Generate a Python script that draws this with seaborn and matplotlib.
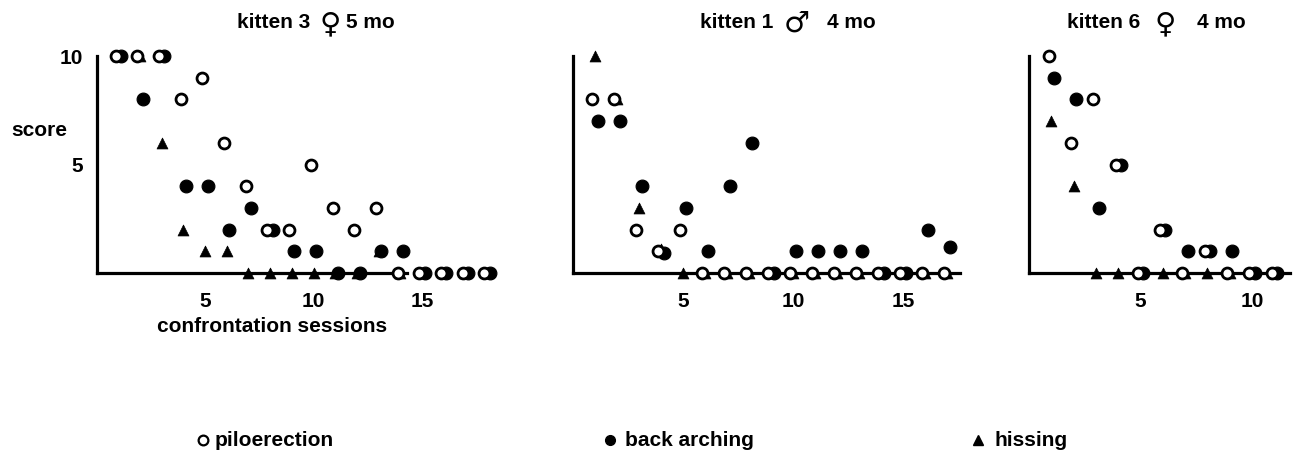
import matplotlib
matplotlib.use("Agg")
import numpy as np
import pandas as pd
import seaborn as sns
import matplotlib.pyplot as plt
from matplotlib.lines import Line2D
from matplotlib import font_manager as fm

# ---------------- data ----------------
k3_name, k3_sex, k3_age = "kitten 3", "\u2640", "5 mo"
k3_sessions = list(range(1, 19))
k3_pilo = [10, 10, 10, 8, 9, 6, 4, 2, 2, 5, 3, 2, 3, 0, 0, 0, 0, 0]
k3_back = [10, 8, 10, 4, 4, 2, 3, 2, 1, 1, 0, 0, 1, 1, 0, 0, 0, 0]
k3_hiss = [10, 10, 6, 2, 1, 1, 0, 0, 0, 0, 0, 0, 1, 0, 0, 0, 0, 0]

k1_name, k1_sex, k1_age = "kitten 1", "\u2642", "4 mo"
k1_sessions = list(range(1, 18))
k1_pilo = [8, 8, 2, 1, 2, 0, 0, 0, 0, 0, 0, 0, 0, 0, 0, 0, 0]
k1_back = [7, 7, 4, 0.9, 3, 1, 4, 6, 0, 1, 1, 1, 1, 0, 0, 2, 1.2]
k1_hiss = [10, 8, 3, 1.1, 0, 0, 0, 0, 0, 0, 0, 0, 0, 0, 0, 0, 0]

k6_name, k6_sex, k6_age = "kitten 6", "\u2640", "4 mo"
k6_sessions = list(range(1, 12))
k6_pilo = [10, 6, 8, 5, 0, 2, 0, 1, 0, 0, 0]
k6_back = [9, 8, 3, 5, 0, 2, 1, 1, 1, 0, 0]
k6_hiss = [7, 4, 0, 0, 0, 0, 0, 0, 0, 0, 0]

x_ticks = [5, 10, 15]
y_ticks = [5, 10]
legend_labels = ["piloerection", "back arching", "hissing"]
x_label = "confrontation sessions"
y_label = "score"

# ---------------- fonts ----------------
names = {f.name for f in fm.fontManager.ttflist}
if "Liberation Sans Narrow" in names:
    main_font, FS = "Liberation Sans Narrow", 17
elif "Liberation Sans" in names:
    main_font, FS = "Liberation Sans", 15
else:
    main_font, FS = "DejaVu Sans", 13

sns.set_theme(style="white")
plt.rcParams["font.family"] = [main_font, "DejaVu Sans"]
plt.rcParams["font.weight"] = "bold"
for k in ("text.color", "axes.labelcolor", "xtick.color", "ytick.color", "axes.edgecolor"):
    plt.rcParams[k] = "black"

W, H = 1296, 459
fig = plt.figure(figsize=(W / 100, H / 100), dpi=100)
fig.patch.set_facecolor("white")

def fx(px):
    return px / W

def fy(py):
    return 1 - py / H

y_top, y_bot = 56, 273
panels = [
    # left px, px per session, xmax, sessions, pilo, back, hiss, spine_end, title parts, title x positions
    (96.5, 21.7, 18.6, k3_sessions, k3_pilo, k3_back, k3_hiss, 14.3,
     (k3_name, k3_sex, k3_age), (237, 330, 346)),
    (573, 22.0, 17.6, k1_sessions, k1_pilo, k1_back, k1_hiss, 17.6,
     (k1_name, k1_sex, k1_age), (700, 797, 827)),
    (1029, 22.3, 11.7, k6_sessions, k6_pilo, k6_back, k6_hiss, 11.7,
     (k6_name, k6_sex, k6_age), (1067, 1165, 1197)),
]

styles = {
    "back": dict(marker="o", s=85, facecolor="black", edgecolor="black", linewidth=0.8, dx=0.12, z=3),
    "hiss": dict(marker="^", s=62, facecolor="black", edgecolor="black", linewidth=0.5, dx=0.0, z=4),
    "pilo": dict(marker="o", s=62, facecolor="white", edgecolor="black", linewidth=2.0, dx=-0.12, z=5),
}

for i, (left, ppu, xmax, sess, pilo, back, hiss, spine_end, tparts, tpos) in enumerate(panels):
    ax = fig.add_axes([fx(left), fy(y_bot), fx(xmax * ppu), (y_bot - y_top) / H])
    ax.set_facecolor("none")
    for key, vals in (("back", back), ("hiss", hiss), ("pilo", pilo)):
        st = styles[key]
        df = pd.DataFrame({"session": np.array(sess) + st["dx"], "score": vals})
        sns.scatterplot(data=df, x="session", y="score", ax=ax, marker=st["marker"],
                        s=st["s"], facecolor=st["facecolor"], edgecolor=st["edgecolor"],
                        linewidth=st["linewidth"], zorder=st["z"], clip_on=False, legend=False)
    ax.set_xlim(0, xmax)
    ax.set_ylim(0, 10)
    for sp in ("top", "right"):
        ax.spines[sp].set_visible(False)
    for sp in ("left", "bottom"):
        ax.spines[sp].set_linewidth(2.3)
        ax.spines[sp].set_color("black")
    ax.spines["bottom"].set_bounds(0, spine_end)
    ax.set_xticks(x_ticks if xmax > 15 else x_ticks[:2])
    ax.set_yticks(y_ticks)
    ax.tick_params(axis="both", direction="out", length=3, width=1.5, color="black",
                   labelsize=FS, labelcolor="black")
    ax.tick_params(axis="x", pad=11)
    ax.tick_params(axis="y", pad=7)
    for lab in ax.get_xticklabels() + ax.get_yticklabels():
        lab.set_fontweight("bold")
    if i > 0:
        ax.set_yticklabels([])
    ax.set_xlabel("")
    ax.set_ylabel("")
    name, sex, age = tparts
    x_name, x_sex, x_age = tpos
    fig.text(fx(x_name), fy(23), name, ha="left", va="center", fontsize=FS, fontweight="bold")
    fig.text(fx(x_sex), fy(24), sex, ha="center", va="center", fontsize=21, fontweight="bold",
             family=["DejaVu Sans"])
    fig.text(fx(x_age), fy(23), age, ha="left", va="center", fontsize=FS, fontweight="bold")

fig.text(fx(272), fy(326), x_label, ha="center", va="center", fontsize=FS, fontweight="bold")
fig.text(fx(39), fy(130), y_label, ha="center", va="center", fontsize=FS, fontweight="bold")

# legend row
leg = [
    (203, 215, legend_labels[0], "o", "white", 1.6, 7),
    (610, 625, legend_labels[1], "o", "black", 1.0, 7),
    (978, 995, legend_labels[2], "^", "black", 1.0, 7),
]
for mx, tx, lab, mk, fc, lw, ms in leg:
    fig.add_artist(Line2D([fx(mx)], [fy(440)], marker=mk, markersize=ms, markerfacecolor=fc,
                          markeredgecolor="black", markeredgewidth=lw, linestyle="none",
                          transform=fig.transFigure))
    fig.text(fx(tx), fy(440), lab, ha="left", va="center", fontsize=FS, fontweight="bold")

fig.savefig("out.png", dpi=100, facecolor="white")
